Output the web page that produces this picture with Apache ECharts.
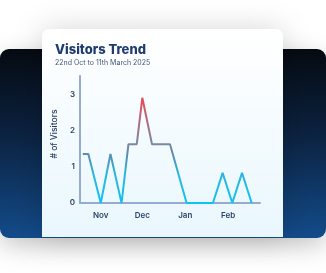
<!DOCTYPE html>
<html><head><meta charset="utf-8">
<style>html,body{margin:0;padding:0;background:#fff;}#c{width:326px;height:273px;}</style>
<script src="https://cdn.jsdelivr.net/npm/echarts@6/dist/echarts.min.js"></script>
</head><body><div id="c"></div>
<script>
const titleText = 'Visitors Trend';
const subtitleText = '22nd Oct to 11th March 2025';
const yAxisName = '# of Visitors';
const dates = ['2024-10-19','2024-10-23','2024-11-01','2024-11-08','2024-11-16','2024-11-21','2024-11-27','2024-12-01','2024-12-08','2024-12-21','2025-01-02','2025-01-21','2025-01-28','2025-02-04','2025-02-11','2025-02-18'];
const visitors = [1.35,1.35,0,1.35,0,1.62,1.62,2.9,1.62,1.62,0,0,0.83,0,0.83,0];
const monthTicks = ['2024-11-01','2024-12-01','2025-01-01','2025-02-01'];
const monthNames = ['Jan','Feb','Mar','Apr','May','Jun','Jul','Aug','Sep','Oct','Nov','Dec'];
const axisStart = '2024-10-17';
const axisEnd = '2025-02-24';

function ts(s){const p=s.split('-').map(Number);return Date.UTC(p[0],p[1]-1,p[2]);}

const chart = echarts.init(document.getElementById('c'), null, {renderer:'canvas'});
const G = echarts.graphic;
chart.setOption({
  animation:false,
  graphic:[
    {type:'rect', z:-20, shape:{x:0,y:49,width:326,height:189,r:9},
     style:{fill:new G.LinearGradient(0,0,0,1,[{offset:0,color:'#050a11'},{offset:0.45,color:'#0b2240'},{offset:1,color:'#134b8a'}]),
       shadowBlur:24, shadowColor:'rgba(0,0,0,0.22)', shadowOffsetY:8}},
    {type:'rect', z:-10, shape:{x:42,y:29,width:241,height:208,r:[7,7,0,0]},
     style:{fill:new G.LinearGradient(0,0,0,1,[{offset:0,color:'#ffffff'},{offset:1,color:'#e9f7fd'}]),
       shadowBlur:30, shadowColor:'rgba(0,0,0,0.16)'}}
  ],
  title:{
    text:titleText, subtext:subtitleText, left:50, top:39, itemGap:2,
    textStyle:{fontFamily:'Inter', fontWeight:800, fontSize:13, color:'#1e3c6d'},
    subtextStyle:{fontFamily:'Inter', fontSize:7, color:'#41587a'}
  },
  grid:{left:80, right:66, top:76, bottom:70, containLabel:false},
  xAxis:{
    type:'value', min:ts(axisStart), max:ts(axisEnd), scale:true,
    axisLine:{lineStyle:{color:'#93acd0', width:2}},
    axisTick:{show:false}, splitLine:{show:false},
    axisLabel:{customValues:monthTicks.map(ts), margin:9, fontFamily:'Inter', fontWeight:600, fontSize:8, color:'#2c4468',
      formatter:v=>monthNames[new Date(v).getUTCMonth()]}
  },
  yAxis:{
    type:'value', min:0, max:3.5, interval:1,
    name:yAxisName, nameLocation:'middle', nameGap:19,
    nameTextStyle:{fontFamily:'Inter', fontWeight:500, fontSize:8.5, color:'#2a3e5f', padding:[0,0,0,11]},
    axisLine:{show:true, lineStyle:{color:'#93acd0', width:2}},
    axisTick:{show:false}, splitLine:{show:false},
    axisLabel:{showMaxLabel:false, margin:5, fontFamily:'Inter', fontWeight:600, fontSize:8, color:'#2c4468', padding:[0,0,9,0]}
  },
  series:[{
    type:'line', data:dates.map((d,i)=>[ts(d),visitors[i]]), symbol:'none',
    lineStyle:{width:2, color:new G.LinearGradient(0,0,0,1,[
      {offset:0,color:'#f4464f'},{offset:0.22,color:'#b46a7c'},{offset:0.44,color:'#7a88a1'},
      {offset:0.53,color:'#5c8cae'},{offset:0.72,color:'#2bb6de'},{offset:1,color:'#0ec4f1'}])}
  }]
});
</script></body></html>
